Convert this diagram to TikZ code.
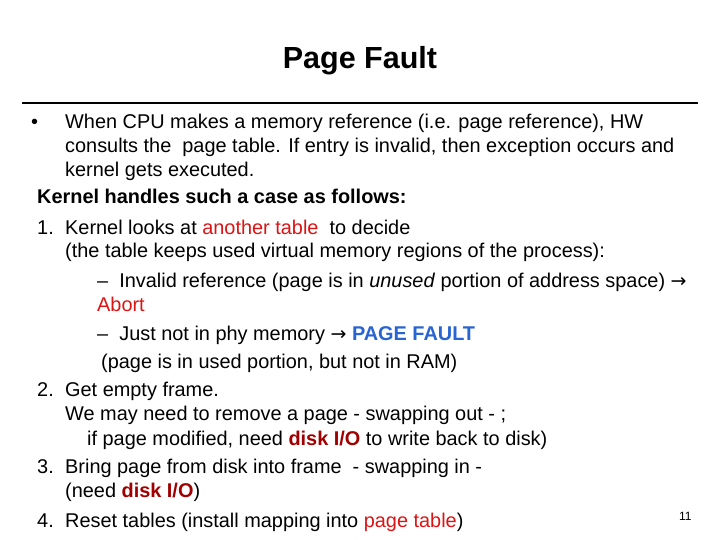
\documentclass[tikz,border=0pt]{standalone}
\usepackage{fontspec}
\setmainfont{Liberation Sans}
\newfontfamily\arrowfont{DejaVu Sans}
\definecolor{myred}{RGB}{220,20,20}
\definecolor{myblue}{RGB}{40,100,210}
\definecolor{mydred}{RGB}{160,0,0}
\newcommand{\arr}{{\arrowfont\fontsize{19}{20}\selectfont →}}
\begin{document}
\begin{tikzpicture}[x=1pt,y=-1pt,
  ln/.style={anchor=base west,inner sep=0pt,font=\fontsize{19.9}{22}\selectfont}]
\useasboundingbox[fill=white] (0,0) rectangle (720,540);
\node[anchor=base,inner sep=0pt,font=\bfseries\fontsize{30.5}{32}\selectfont] (title) at (360,69) {Page Fault};
\coordinate (r1) at (22,103); \coordinate (r2) at (698,103);
\draw[line width=2.2pt] (r1) -- (r2);
\node[ln] (b) at (31,129) {•};
\node[ln] (l1) at (65,129) {When CPU makes a memory reference (i.e. page reference), HW};
\node[ln] (l2) at (65,153) {consults the \ page table. If entry is invalid, then exception occurs and};
\node[ln] (l3) at (65,177) {kernel gets executed.};
\node[ln] (l4) at (37,204) {\bfseries Kernel handles such a case as follows:};
\node[ln] (n1) at (37,234) {1.};
\node[ln] (l5) at (65,234) {Kernel looks at \textcolor{myred}{another table} \ to decide};
\node[ln] (l6) at (65,257) {(the table keeps used virtual memory regions of the process):};
\node[ln] (l7) at (97,287) {– \ Invalid reference (page is in \textit{unused} portion of address space) \arr{} };
\node[ln] (l8) at (97,311) {\textcolor{myred}{Abort}};
\node[ln] (l9) at (97,340) {– \ Just not in phy memory \arr{} \textcolor{myblue}{\bfseries PAGE FAULT}};
\node[ln] (l10) at (101,368) {(page is in used portion, but not in RAM)};
\node[ln] (n2) at (37,396) {2.};
\node[ln] (l11) at (65,396) {Get empty frame.};
\node[ln] (l12) at (65,420) {We may need to remove a page - swapping out - ;};
\node[ln] (l13) at (87,445) {if page modified, need \textcolor{mydred}{\bfseries disk I/O} to write back to disk)};
\node[ln] (n3) at (37,473) {3.};
\node[ln] (l14) at (65,473) {Bring page from disk into frame \ - swapping in -};
\node[ln] (l15) at (65,497) {(need \textcolor{mydred}{\bfseries disk I/O})};
\node[ln] (n4) at (37,527) {4.};
\node[ln] (l16) at (65,527) {Reset tables (install mapping into \textcolor{myred}{page table})};
\node[anchor=base west,inner sep=0pt,font=\fontsize{12}{14}\selectfont] (pg) at (679,520) {11};
\end{tikzpicture}
\end{document}
